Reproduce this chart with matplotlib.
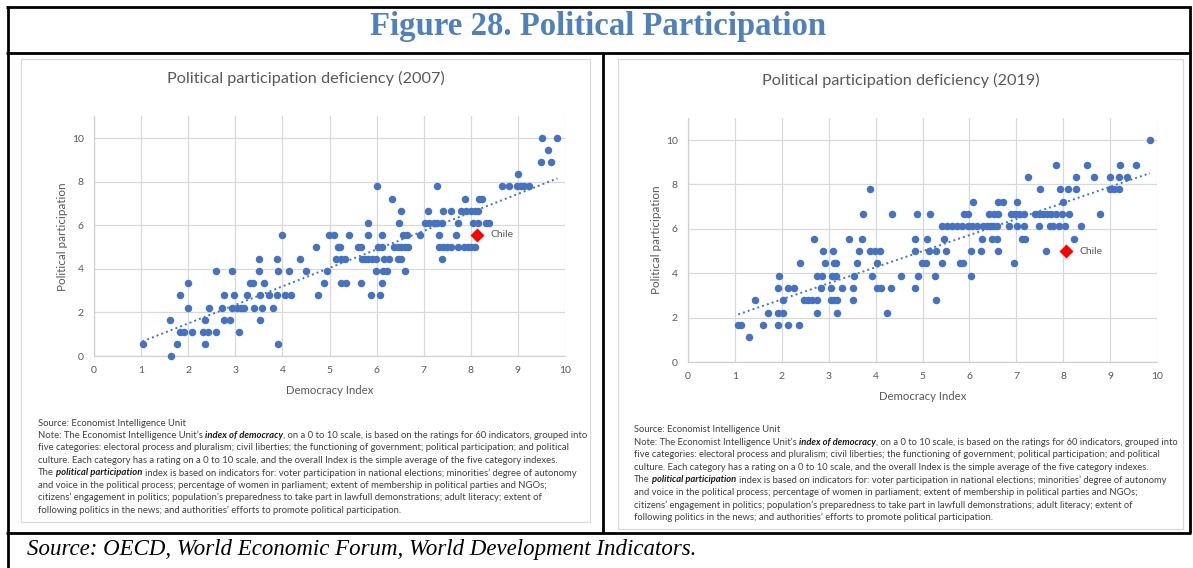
import matplotlib
matplotlib.use("Agg")
import matplotlib.pyplot as plt
from matplotlib.patches import Rectangle
import numpy as np

# ---------------- data ----------------
dem_2007 = [1.03, 1.64, 1.76, 1.61, 1.83, 1.92, 2.09, 1.83, 2.00, 1.99,
            2.31, 2.41, 2.36, 2.36, 2.44, 2.60, 2.60, 2.71, 2.75, 2.76,
            2.89, 2.92, 2.92, 2.97, 3.07, 3.04, 3.12, 3.18, 3.25, 3.31,
            3.38, 3.40, 3.51, 3.51, 3.52, 3.52, 3.57, 3.61, 3.71, 3.80,
            3.88, 3.90, 3.89, 3.91, 3.99, 4.06, 4.15, 4.18, 4.37, 4.50,
            4.71, 4.76, 4.89, 4.94, 4.99,
            5.09, 5.14, 5.18, 5.22, 5.25, 5.32, 5.25, 5.36, 5.41, 5.61,
            5.67, 5.66, 5.68, 5.75, 5.82, 5.82, 5.82, 5.89, 5.98, 5.91,
            5.98, 6.00, 6.03, 6.12, 6.07, 6.11, 6.12, 6.14, 6.23, 6.16,
            6.26, 6.32, 6.38, 6.45, 6.52, 6.60, 6.67, 6.48, 6.52, 6.45,
            6.52, 6.57, 6.64, 6.60, 6.92, 7.02, 7.11, 7.21, 7.29, 7.38,
            7.09, 7.28, 7.33, 7.32, 7.42, 7.50, 7.59, 7.72, 7.38, 7.42,
            7.59, 7.68, 7.72, 7.80, 7.90, 8.00, 8.09, 8.16, 7.87, 8.17,
            8.24, 7.86, 7.94, 8.01, 8.09, 8.04, 8.16, 8.32, 8.39, 8.67,
            8.82, 8.99, 9.06, 9.13, 9.24, 9.00, 9.50, 9.70, 9.64, 9.52,
            9.84]
part_2007 = [0.56, 0.00, 0.56, 1.67, 1.11, 1.11, 1.11, 2.78, 2.22, 3.33,
             1.11, 1.11, 0.56, 1.67, 2.22, 1.11, 3.89, 2.22, 2.78, 1.67,
             1.67, 3.89, 2.22, 2.78, 1.11, 2.22, 2.22, 2.22, 2.78, 3.33,
             3.33, 2.22, 3.89, 4.44, 2.78, 1.67, 2.22, 3.33, 2.78, 2.22,
             4.44, 3.89, 2.78, 0.56, 5.56, 2.78, 3.89, 2.78, 4.44, 3.89,
             5.00, 2.78, 3.33, 3.89, 5.56,
             5.56, 4.44, 5.00, 5.00, 4.44, 4.44, 3.33, 3.33, 5.56, 5.00,
             5.00, 3.33, 4.44, 4.44, 4.44, 6.11, 5.56, 2.78, 3.89, 4.44,
             4.44, 7.78, 5.00, 5.00, 2.78, 5.56, 3.33, 3.89, 3.89, 4.44,
             4.44, 7.22, 5.00, 5.00, 5.00, 5.00, 5.00, 6.11, 6.67, 4.44,
             4.44, 5.56, 5.56, 3.89, 5.56, 6.11, 6.11, 6.11, 6.11, 6.11,
             6.67, 7.78, 5.56, 5.00, 5.00, 5.00, 5.00, 5.00, 4.44, 6.67,
             6.67, 5.56, 6.11, 6.67, 6.67, 6.67, 6.67, 6.67, 7.22, 7.22,
             7.22, 5.00, 5.00, 5.00, 5.00, 6.11, 6.11, 6.11, 6.11, 7.78,
             7.78, 7.78, 7.78, 7.78, 7.78, 8.33, 8.89, 8.89, 9.44, 10.00,
             10.00]

dem_2019 = [1.07, 1.14, 1.30, 1.43, 1.60, 1.71, 1.92, 1.92, 1.94, 1.92,
            2.03, 2.02, 2.13, 2.13, 2.25, 2.36, 2.38, 2.47, 2.56, 2.65,
            2.74, 2.69, 2.75, 2.75, 2.86, 2.83, 2.88, 2.93, 3.04, 3.11,
            3.18, 3.04, 3.06, 3.16, 3.09, 3.11, 3.16, 3.18, 3.29, 3.43,
            3.52, 3.52, 3.53, 3.60, 3.65, 3.70, 3.73, 3.89, 3.89, 3.99,
            4.09, 3.93, 4.03, 4.03, 4.12, 4.25, 4.32, 4.35, 4.55, 4.85,
            4.85, 4.88, 4.91, 4.83, 4.99, 5.08, 5.09, 5.13, 5.15,
            5.29, 5.27, 5.29, 5.42, 5.41, 5.52, 5.63, 5.73, 5.84, 5.96,
            6.06, 6.16, 5.46, 5.51, 5.80, 5.87, 5.89, 5.98, 6.03, 6.04,
            6.08, 6.24, 6.26, 6.30, 6.37, 6.44, 6.51, 6.58, 6.42, 6.52,
            6.62, 6.49, 6.59, 6.62, 6.62, 6.72, 6.85, 6.88, 6.97, 7.06,
            7.16, 6.96, 7.02, 7.02, 7.16, 7.12, 7.19, 7.24, 7.40, 7.48,
            7.57, 7.66, 7.75, 7.85, 7.98, 8.13, 7.48, 7.51, 7.64, 7.72,
            7.79, 7.92, 8.03, 7.85, 7.94, 8.11, 8.27, 7.99, 8.22, 8.27,
            8.37, 8.51, 8.66, 8.79, 8.99, 8.99, 9.08, 9.19, 9.19, 9.37,
            9.22, 9.56, 9.85]
part_2019 = [1.67, 1.67, 1.11, 2.78, 1.67, 2.22, 1.67, 3.33, 3.89, 2.22,
             2.22, 2.78, 1.67, 3.33, 3.33, 1.67, 4.44, 2.78, 2.78, 2.78,
             2.78, 5.56, 2.22, 3.89, 3.89, 3.33, 5.00, 4.44, 2.78, 2.78,
             2.78, 3.33, 3.89, 3.89, 5.00, 4.44, 4.44, 2.22, 3.33, 5.56,
             3.33, 2.78, 3.89, 4.44, 5.00, 5.56, 6.67, 7.78, 5.00, 5.00,
             5.00, 3.89, 4.44, 3.33, 3.33, 2.22, 3.33, 6.67, 3.89, 3.33,
             5.56, 6.67, 3.89, 5.00, 4.44, 4.44, 5.56, 5.00, 6.67,
             5.00, 3.89, 2.78, 4.44, 6.11, 6.11, 6.11, 6.11, 6.11, 6.11,
             6.11, 6.11, 5.56, 5.00, 4.44, 4.44, 6.67, 6.67, 5.00, 3.89,
             7.22, 5.00, 5.56, 6.11, 6.11, 6.11, 6.11, 6.11, 6.67, 6.67,
             6.67, 5.56, 5.56, 5.00, 7.22, 7.22, 6.11, 6.67, 6.67, 6.67,
             6.67, 4.44, 7.22, 6.11, 6.11, 5.56, 5.56, 8.33, 6.67, 6.67,
             6.67, 6.67, 6.67, 6.67, 6.67, 6.67, 6.11, 7.78, 5.00, 6.11,
             6.11, 6.11, 6.11, 8.89, 7.78, 7.78, 7.78, 7.22, 5.56, 8.33,
             6.11, 8.89, 8.33, 6.67, 8.33, 7.78, 7.78, 7.78, 8.33, 8.33,
             8.89, 8.89, 10.00]

chile_2007 = (8.13, 5.56)
chile_2019 = (8.06, 5.00)
x_ticks = list(range(0, 11))
y_ticks = [0, 2, 4, 6, 8, 10]

fig_title = "Figure 28. Political Participation"
source_text = "Source: OECD, World Economic Forum, World Development Indicators."
chart_titles = ["Political participation deficiency (2007)",
                "Political participation deficiency (2019)"]
x_label = "Democracy Index"
y_label = "Political participation"
note_lines = [
    [("Source: Economist Intelligence Unit", "n")],
    [("Note: The Economist Intelligence Unit\u2019s", "n"), ("index of democracy", "bi"),
     (", on a 0 to 10 scale, is based on the ratings for 60 indicators, grouped into", "g")],
    [("five categories: electoral process and pluralism; civil liberties; the functioning of government; political participation; and political", "n")],
    [("culture. Each category has a rating on a 0 to 10 scale, and the overall Index is the simple average of the five category indexes.", "n")],
    [("The", "n"), ("political participation", "bi"),
     ("index is based on indicators for: voter participation in national elections; minorities\u2019 degree of autonomy", "n")],
    [("and voice in the political process; percentage of women in parliament; extent of membership in political parties and NGOs;", "n")],
    [("citizens\u2019 engagement in politics; population\u2019s preparedness to take part in lawfull demonstrations; adult literacy; extent of", "n")],
    [("following politics in the news; and authorities\u2019 efforts to promote political participation.", "n")],
]

# ---------------- figure ----------------
W, H = 1193, 568
fig = plt.figure(figsize=(W / 100, H / 100), dpi=100)
fig.patch.set_facecolor("white")
cv = fig.add_axes([0, 0, 1, 1])
cv.set_xlim(0, W)
cv.set_ylim(H, 0)
cv.axis("off")
renderer = fig.canvas.get_renderer()

BLUE = "#4472C4"
GRAY = "#595959"
SANS = "Lato"


def width_of(t):
    return t.get_window_extent(renderer).width


def fit_text(t, target):
    t.set_fontsize(t.get_fontsize() * target / width_of(t))
    return t


# frame lines
LW = 2.0
for (x0, x1, y) in [(6, 1191, 6.5), (6, 1191, 53), (6, 1191, 533)]:
    cv.plot([x0, x1], [y, y], color="black", lw=LW, solid_capstyle="butt")
for (x, y0, y1) in [(7.5, 5.5, 568), (603, 53, 533), (1190, 5.5, 533)]:
    cv.plot([x, x], [y0, y1], color="black", lw=LW, solid_capstyle="butt")

# inner light boxes
cv.add_patch(Rectangle((21, 59), 569, 463, fill=False, ec="#D9D9D9", lw=0.9))
cv.add_patch(Rectangle((618, 59), 565, 470, fill=False, ec="#D9D9D9", lw=0.9))

# main title and source
t = cv.text(598, 27, fig_title, ha="center", va="center", family="Liberation Serif",
            weight="bold", color="#4F81BD", fontsize=18)
fit_text(t, 457)
t = cv.text(27, 549, source_text, ha="left", va="center", family="Liberation Serif",
            style="italic", color="black", fontsize=14)
fit_text(t, 670)


def draw_notes(x, y0, dy, target_w):
    # measure font size from the second line
    fs0 = 7.0
    def layout(fs, draw):
        sp_a = cv.text(0, 0, "x x", fontsize=fs, family=SANS)
        sp_b = cv.text(0, 0, "xx", fontsize=fs, family=SANS)
        space = width_of(sp_a) - width_of(sp_b)
        sp_a.remove(); sp_b.remove()
        widths = []
        for i, segs in enumerate(note_lines):
            cur = x
            y = y0 + i * dy
            for j, (s, st) in enumerate(segs):
                if j > 0 and st != "g":
                    cur += space
                kw = dict(fontsize=fs, family=SANS, ha="left", va="center", color="#404040")
                if st == "bi":
                    kw.update(weight="bold", style="italic", color="#1a1a1a")
                tt = cv.text(cur, y, s, **kw)
                cur += width_of(tt)
                if not draw:
                    tt.remove()
            widths.append(cur - x)
        return widths
    w = layout(fs0, False)
    fs = fs0 * target_w / w[1]
    layout(fs, True)


draw_notes(38, 423, 12.45, 550)
draw_notes(634, 429.5, 12.6, 547)


def panel(x0_px, x10_px, y0_px, y10_px, xs, ys, chile, title, title_xy, xl_xy, yl_xy):
    unit = (y0_px - y10_px) / 10.0
    top_px = y0_px - 11 * unit
    ax = fig.add_axes([x0_px / W, (H - y0_px) / H, (x10_px - x0_px) / W, (y0_px - top_px) / H])
    ax.patch.set_alpha(0)
    ax.set_xlim(0, 10)
    ax.set_ylim(0, 11)
    ax.set_xticks(x_ticks)
    ax.set_yticks(y_ticks)
    ax.grid(True, color="#D9D9D9", lw=0.9)
    ax.set_axisbelow(True)
    for s in ["top", "right"]:
        ax.spines[s].set_visible(False)
    for s in ["left", "bottom"]:
        ax.spines[s].set_color("#D0D0D0")
        ax.spines[s].set_linewidth(0.9)
    ax.tick_params(length=0, labelsize=7.5, labelcolor=GRAY, pad=7.5)
    for lab in ax.get_xticklabels() + ax.get_yticklabels():
        lab.set_family(SANS)
    ax.plot(xs, ys, "o", ms=5.4, color=BLUE, mec="none", clip_on=False, zorder=3)
    coef = np.polyfit(xs, ys, 1)
    xx = np.array([min(xs), max(xs)])
    ax.plot(xx, np.polyval(coef, xx), color=BLUE, lw=1.4, ls=(0, (1, 1.6)), zorder=4)
    ax.plot([chile[0]], [chile[1]], "D", ms=7, color="#FF0000", mec="none", zorder=5, clip_on=False)
    ax.annotate("Chile", xy=chile, xytext=(9.5, 0), textcoords="offset points",
                va="center", ha="left", fontsize=7.5, color=GRAY, family=SANS)
    t = cv.text(title_xy[0], title_xy[1], title, ha="center", va="center",
                family=SANS, color=GRAY, fontsize=11)
    fit_text(t, 277)
    t = cv.text(xl_xy[0], xl_xy[1], x_label, ha="center", va="center",
                family=SANS, color=GRAY, fontsize=8)
    fit_text(t, 88)
    t = cv.text(yl_xy[0], yl_xy[1], y_label, ha="center", va="center", rotation=90,
                family=SANS, color=GRAY, fontsize=8)
    t.set_fontsize(t.get_fontsize() * 109 / t.get_window_extent(renderer).height)
    return ax


panel(94, 565, 356, 138, dem_2007, part_2007, chile_2007, chart_titles[0],
      (306, 78), (330, 390), (62, 237))
panel(688, 1157, 362, 140, dem_2019, part_2019, chile_2019, chart_titles[1],
      (901, 80), (923, 396), (656, 240))

fig.savefig("out.png", dpi=100, facecolor="white")
